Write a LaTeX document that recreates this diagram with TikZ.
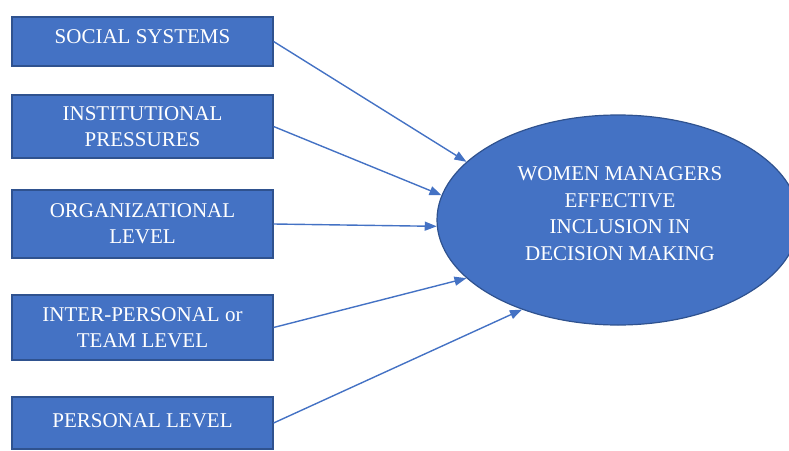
\documentclass[tikz,border=0pt]{standalone}
\usepackage{fontspec}
\setmainfont{Liberation Serif}
\usetikzlibrary{shapes.geometric,arrows.meta}
\definecolor{boxfill}{HTML}{4472C4}
\definecolor{boxline}{HTML}{2F528F}
\tikzset{
  factor/.style={draw=boxline, line width=1.2pt, fill=boxfill, text=white,
    minimum width=261pt, align=center, inner sep=0pt,
    font=\fontsize{21}{26}\selectfont},
  outcome/.style={ellipse, draw=boxline, line width=1.2pt, fill=boxfill,
    minimum width=362pt, minimum height=210pt, inner sep=0pt},
  outcometext/.style={text=white, align=center,
    font=\fontsize{21}{26.5}\selectfont},
  link/.style={draw=boxfill, line width=1.4pt,
    -{Triangle[length=12pt,width=9pt]}}
}
\begin{document}
\begin{tikzpicture}[x=1pt,y=-1pt]
  \useasboundingbox (0,0) rectangle (789,450);

  % the influencing factors
  \node[factor, minimum height=49pt, text depth=10pt] (social) at (142.5,41.5) {SOCIAL SYSTEMS};
  \node[factor, minimum height=63pt] (inst) at (142.5,126.5) {INSTITUTIONAL\\PRESSURES};
  \node[factor, minimum height=68pt] (org) at (142.5,224) {ORGANIZATIONAL\\LEVEL};
  \node[factor, minimum height=65pt] (team) at (142.5,327.5) {INTER-PERSONAL or\\TEAM LEVEL};
  \node[factor, minimum height=52pt, text depth=5pt] (pers) at (142.5,423) {PERSONAL LEVEL};

  % the outcome
  \node[outcome] (goal) at (618,220) {};
  \node[outcometext] (goaltext) at (620,213.5)
    {WOMEN MANAGERS\\EFFECTIVE\\INCLUSION IN\\DECISION MAKING};

  % influences
  \draw[link] (social.east) -- (goal.159.6);
  \draw[link] (inst.east) -- (goal.172.6);
  \draw[link] (org.east) -- (goal.182.5);
  \draw[link] (team.east) -- (goal.201.8);
  \draw[link] (pers.east) -- (goal.223.5);
\end{tikzpicture}
\end{document}
